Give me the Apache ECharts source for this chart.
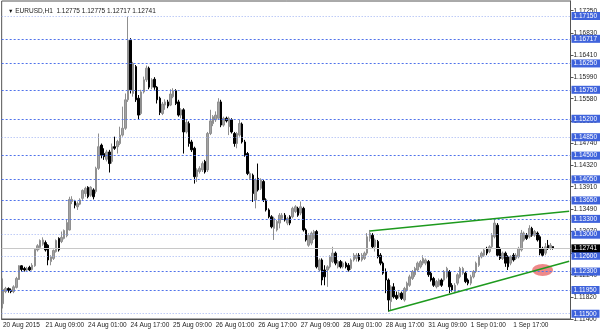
<!DOCTYPE html>
<html><head><meta charset="utf-8">
<script src="https://cdn.jsdelivr.net/npm/echarts@6/dist/echarts.min.js"></script>
<style>html,body{margin:0;padding:0;background:#fff}#c{width:600px;height:333px}</style>
</head><body><div id="c"></div>
<script>
// [open, close, low, high] per hourly bar, EURUSD H1
const candles = [
[1.1169,1.1196,1.1160,1.1217],[1.1192,1.1198,1.1189,1.1201],[1.1198,1.1194,1.1190,1.1200],[1.1195,1.1192,1.1189,1.1198],
[1.1192,1.1201,1.1189,1.1204],[1.1200,1.1217,1.1198,1.1220],[1.1215,1.1241,1.1214,1.1242],[1.1241,1.1234,1.1230,1.1242],
[1.1236,1.1233,1.1230,1.1239],[1.1233,1.1236,1.1230,1.1239],[1.1238,1.1233,1.1231,1.1241],[1.1234,1.1242,1.1232,1.1246],
[1.1241,1.1272,1.1239,1.1274],[1.1271,1.1279,1.1268,1.1282],[1.1276,1.1289,1.1272,1.1291],[1.1282,1.1290,1.1279,1.1295],
[1.1285,1.1271,1.1268,1.1289],[1.1280,1.1252,1.1242,1.1282],[1.1249,1.1258,1.1242,1.1261],[1.1255,1.1270,1.1252,1.1272],
[1.1268,1.1289,1.1266,1.1291],[1.1293,1.1271,1.1268,1.1295],[1.1287,1.1295,1.1284,1.1306],[1.1293,1.1308,1.1291,1.1310],
[1.1298,1.1323,1.1295,1.1328],[1.1309,1.1367,1.1308,1.1372],[1.1363,1.1367,1.1358,1.1373],[1.1363,1.1356,1.1350,1.1366],
[1.1353,1.1359,1.1347,1.1363],[1.1358,1.1366,1.1356,1.1369],[1.1369,1.1384,1.1366,1.1386],[1.1378,1.1388,1.1372,1.1391],
[1.1390,1.1372,1.1369,1.1392],[1.1375,1.1390,1.1372,1.1392],[1.1385,1.1372,1.1367,1.1388],[1.1382,1.1426,1.1378,1.1429],
[1.1426,1.1467,1.1423,1.1492],[1.1470,1.1451,1.1445,1.1473],[1.1454,1.1448,1.1442,1.1464],[1.1443,1.1457,1.1439,1.1461],
[1.1457,1.1435,1.1418,1.1461],[1.1439,1.1467,1.1435,1.1473],[1.1467,1.1464,1.1461,1.1486],[1.1467,1.1477,1.1454,1.1480],
[1.1473,1.1489,1.1470,1.1505],[1.1489,1.1502,1.1486,1.1543],[1.1502,1.1556,1.1499,1.1568],[1.1556,1.1669,1.1552,1.1714],
[1.1669,1.1575,1.1568,1.1673],[1.1568,1.1625,1.1562,1.1628],[1.1619,1.1556,1.1552,1.1622],[1.1559,1.1527,1.1518,1.1565],
[1.1530,1.1571,1.1527,1.1575],[1.1571,1.1594,1.1568,1.1600],[1.1594,1.1616,1.1590,1.1621],[1.1616,1.1580,1.1576,1.1619],
[1.1580,1.1594,1.1576,1.1597],[1.1595,1.1580,1.1575,1.1599],[1.1580,1.1556,1.1549,1.1582],[1.1559,1.1532,1.1527,1.1562],
[1.1530,1.1548,1.1527,1.1552],[1.1546,1.1552,1.1537,1.1557],[1.1552,1.1544,1.1540,1.1556],[1.1546,1.1567,1.1544,1.1576],
[1.1562,1.1573,1.1559,1.1578],[1.1573,1.1549,1.1546,1.1576],[1.1552,1.1527,1.1524,1.1556],[1.1527,1.1537,1.1521,1.1540],
[1.1537,1.1495,1.1454,1.1540],[1.1495,1.1513,1.1492,1.1518],[1.1511,1.1473,1.1467,1.1515],[1.1476,1.1461,1.1457,1.1480],
[1.1464,1.1410,1.1397,1.1467],[1.1410,1.1423,1.1400,1.1426],[1.1420,1.1426,1.1416,1.1430],[1.1423,1.1435,1.1419,1.1439],
[1.1439,1.1419,1.1416,1.1442],[1.1423,1.1492,1.1419,1.1495],[1.1492,1.1516,1.1489,1.1537],[1.1511,1.1524,1.1506,1.1527],
[1.1518,1.1527,1.1514,1.1534],[1.1521,1.1552,1.1518,1.1559],[1.1552,1.1508,1.1504,1.1556],[1.1508,1.1521,1.1505,1.1524],
[1.1521,1.1516,1.1513,1.1524],[1.1505,1.1521,1.1489,1.1524],[1.1518,1.1495,1.1492,1.1521],[1.1492,1.1473,1.1467,1.1495],
[1.1473,1.1492,1.1464,1.1495],[1.1489,1.1511,1.1486,1.1518],[1.1510,1.1476,1.1473,1.1513],[1.1476,1.1451,1.1448,1.1480],
[1.1454,1.1416,1.1413,1.1457],[1.1407,1.1416,1.1404,1.1420],[1.1413,1.1378,1.1362,1.1416],[1.1366,1.1404,1.1350,1.1407],
[1.1407,1.1385,1.1382,1.1435],[1.1388,1.1404,1.1385,1.1407],[1.1401,1.1366,1.1362,1.1404],[1.1366,1.1347,1.1344,1.1369],
[1.1347,1.1334,1.1331,1.1350],[1.1334,1.1315,1.1312,1.1337],[1.1312,1.1331,1.1290,1.1334],[1.1309,1.1325,1.1306,1.1328],
[1.1322,1.1337,1.1312,1.1341],[1.1331,1.1337,1.1328,1.1341],[1.1337,1.1328,1.1325,1.1341],[1.1322,1.1331,1.1318,1.1334],
[1.1334,1.1322,1.1318,1.1337],[1.1334,1.1350,1.1331,1.1353],[1.1344,1.1353,1.1341,1.1356],[1.1350,1.1337,1.1334,1.1353],
[1.1341,1.1353,1.1337,1.1363],[1.1350,1.1309,1.1306,1.1353],[1.1309,1.1290,1.1287,1.1312],[1.1280,1.1299,1.1277,1.1303],
[1.1284,1.1303,1.1280,1.1306],[1.1293,1.1306,1.1290,1.1309],[1.1306,1.1239,1.1236,1.1309],[1.1233,1.1252,1.1230,1.1255],
[1.1252,1.1214,1.1204,1.1255],[1.1233,1.1220,1.1204,1.1242],[1.1233,1.1239,1.1201,1.1242],[1.1239,1.1258,1.1236,1.1261],
[1.1249,1.1265,1.1246,1.1277],[1.1265,1.1246,1.1242,1.1268],[1.1239,1.1249,1.1236,1.1252],[1.1249,1.1239,1.1236,1.1252],
[1.1239,1.1246,1.1236,1.1249],[1.1246,1.1239,1.1236,1.1249],[1.1242,1.1233,1.1230,1.1246],[1.1236,1.1252,1.1233,1.1255],
[1.1252,1.1261,1.1249,1.1265],[1.1255,1.1261,1.1249,1.1265],[1.1261,1.1252,1.1249,1.1265],[1.1252,1.1261,1.1249,1.1265],
[1.1255,1.1265,1.1252,1.1268],[1.1265,1.1296,1.1261,1.1303],[1.1293,1.1303,1.1287,1.1309],[1.1299,1.1277,1.1274,1.1303],
[1.1277,1.1290,1.1268,1.1293],[1.1287,1.1258,1.1255,1.1290],[1.1261,1.1246,1.1242,1.1265],[1.1246,1.1227,1.1224,1.1249],
[1.1230,1.1214,1.1189,1.1236],[1.1214,1.1176,1.1154,1.1217],[1.1173,1.1201,1.1157,1.1204],[1.1201,1.1182,1.1179,1.1208],
[1.1185,1.1179,1.1176,1.1192],[1.1182,1.1189,1.1179,1.1192],[1.1189,1.1179,1.1176,1.1192],[1.1176,1.1198,1.1173,1.1201],
[1.1195,1.1208,1.1192,1.1211],[1.1204,1.1220,1.1201,1.1224],[1.1217,1.1230,1.1214,1.1233],[1.1224,1.1236,1.1220,1.1239],
[1.1233,1.1246,1.1230,1.1249],[1.1239,1.1249,1.1236,1.1252],[1.1246,1.1255,1.1242,1.1261],[1.1246,1.1252,1.1242,1.1255],
[1.1249,1.1224,1.1220,1.1252],[1.1227,1.1214,1.1211,1.1230],[1.1217,1.1204,1.1201,1.1220],[1.1201,1.1211,1.1198,1.1214],
[1.1204,1.1214,1.1201,1.1217],[1.1214,1.1204,1.1201,1.1217],[1.1214,1.1230,1.1211,1.1233],[1.1220,1.1236,1.1217,1.1239],
[1.1230,1.1201,1.1189,1.1233],[1.1204,1.1195,1.1192,1.1208],[1.1192,1.1204,1.1189,1.1208],[1.1208,1.1224,1.1204,1.1227],
[1.1220,1.1236,1.1217,1.1239],[1.1227,1.1236,1.1224,1.1239],[1.1227,1.1211,1.1208,1.1230],[1.1214,1.1208,1.1204,1.1217],
[1.1208,1.1220,1.1204,1.1224],[1.1220,1.1230,1.1217,1.1233],[1.1230,1.1246,1.1227,1.1249],[1.1242,1.1258,1.1239,1.1261],
[1.1258,1.1265,1.1255,1.1268],[1.1261,1.1271,1.1258,1.1274],[1.1274,1.1265,1.1261,1.1277],[1.1268,1.1277,1.1265,1.1280],
[1.1277,1.1299,1.1274,1.1303],[1.1296,1.1322,1.1293,1.1328],[1.1318,1.1261,1.1258,1.1322],[1.1274,1.1255,1.1252,1.1277],
[1.1255,1.1265,1.1252,1.1268],[1.1265,1.1246,1.1239,1.1268],[1.1258,1.1239,1.1233,1.1261],[1.1246,1.1258,1.1242,1.1261],
[1.1261,1.1252,1.1249,1.1265],[1.1255,1.1261,1.1252,1.1265],[1.1258,1.1274,1.1255,1.1277],[1.1271,1.1303,1.1268,1.1309],
[1.1290,1.1303,1.1287,1.1306],[1.1299,1.1293,1.1290,1.1303],[1.1296,1.1312,1.1293,1.1318],[1.1312,1.1299,1.1296,1.1315],
[1.1299,1.1306,1.1296,1.1309],[1.1303,1.1290,1.1287,1.1306],[1.1296,1.1265,1.1261,1.1299],[1.1274,1.1261,1.1258,1.1277],
[1.1265,1.1277,1.1261,1.1284],[1.1280,1.1274,1.1271,1.1290],[1.1274,1.1280,1.1271,1.1284],[1.12775,1.12741,1.12717,1.12775]
];
const emptySlots = 6; // right-hand chart shift
const dateLabels = ["20 Aug 2015","21 Aug 09:00","24 Aug 01:00","24 Aug 17:00","25 Aug 09:00","26 Aug 01:00",
  "26 Aug 17:00","27 Aug 09:00","28 Aug 01:00","28 Aug 17:00","31 Aug 09:00","1 Sep 01:00","1 Sep 17:00"];
const labelEvery = 16;
const priceTicks = [1.11400,1.11820,1.12240,1.12650,1.13070,1.13490,1.13910,1.14320,1.14740,1.15160,1.15580,1.15990,1.16410,1.16830,1.17250];
const levels = [1.17150,1.16717,1.16250,1.15750,1.15200,1.14850,1.14500,1.14050,1.13650,1.13300,1.13000,1.12600,1.12300,1.11950,1.11500];
const lightLevels = [1.17150,1.14850,1.13000,1.12600,1.11500];
const currentPrice = 1.12741;
const titleText = "EURUSD,H1  1.12775 1.12775 1.12717 1.12741";
const upperTrend = [[138, 1.1307], [213, 1.13443]];
const lowerTrend = [[145, 1.1155], [213, 1.12497]];
const marker = [[203, 1.1233]];

const cats = [];
for (let i = 0; i < candles.length + emptySlots; i++) cats.push(String(i));
const showIdx = (i) => i % labelEvery === 0 && i / labelEvery < dateLabels.length;
const FONT = 'Liberation Sans';

const chart = echarts.init(document.getElementById('c'), null, {renderer: 'canvas'});
chart.setOption({
  animation: false,
  backgroundColor: '#fff',
  title: {
    text: '{t|▼} ' + titleText, left: 3, top: 3,
    textStyle: {fontSize: 6.5, fontFamily: FONT, color: '#222', fontWeight: 'normal',
      rich: {t: {fontSize: 5.5, color: '#111', fontFamily: FONT}}}
  },
  grid: {left: 1, right: 29, top: 1, bottom: 14, show: true, borderColor: '#555', borderWidth: 1, backgroundColor: '#fff'},
  xAxis: {
    type: 'category', data: cats, boundaryGap: true,
    axisLine: {lineStyle: {color: '#555', width: 1}},
    axisTick: {interval: (i) => showIdx(i), alignWithLabel: true, length: 3, lineStyle: {color: '#555'}},
    axisLabel: {interval: (i) => showIdx(i), formatter: (v, i) => dateLabels[i / labelEvery] || '',
      align: 'left', fontSize: 6.5, fontFamily: FONT, color: '#222', margin: 3},
    splitLine: {show: false}
  },
  yAxis: {
    type: 'value', position: 'right', min: 1.1140, max: 1.17435, scale: true,
    axisLine: {show: true, lineStyle: {color: '#555', width: 1}},
    axisTick: {show: true, customValues: priceTicks, length: 3, lineStyle: {color: '#555'}},
    axisLabel: {customValues: priceTicks, formatter: (v) => v.toFixed(5), fontSize: 6.5, fontFamily: FONT, color: '#222', margin: 3},
    splitLine: {show: false}
  },
  series: [
    {
      type: 'line', data: [], z: 1, silent: true,
      markLine: {
        symbol: 'none', silent: true, animation: false, precision: 5,
        data: levels.map(v => {
          const light = lightLevels.indexOf(v) >= 0;
          return {
            yAxis: v,
            lineStyle: {color: light ? '#9fb2f2' : '#4f72ea', type: light ? [1, 2] : [2, 2], width: 1},
            label: {show: true, position: 'end', distance: 1, formatter: v.toFixed(5),
              backgroundColor: '#3f63dc', color: '#fff', fontSize: 6.5, fontFamily: FONT, padding: [1, 3, 0, 2], lineHeight: 7}
          };
        }).concat([{
          yAxis: currentPrice,
          lineStyle: {color: '#c8c8c8', type: 'solid', width: 1},
          label: {show: true, position: 'end', distance: 1, formatter: currentPrice.toFixed(5),
            backgroundColor: '#000', color: '#fff', fontSize: 6.5, fontFamily: FONT, padding: [1, 3, 0, 2], lineHeight: 7}
        }])
      }
    },
    {
      type: 'candlestick', data: candles, z: 3, barWidth: 2,
      itemStyle: {color: '#a3a3a3', color0: '#000', borderColor: '#8f8f8f', borderColor0: '#000', borderWidth: 1}
    },
    {
      type: 'scatter', data: marker, z: 4, symbol: 'circle', symbolSize: [21, 12], silent: true,
      itemStyle: {color: '#ec7c7c', opacity: 0.9}
    },
    {
      type: 'line', data: [], z: 5, silent: true,
      markLine: {
        symbol: 'none', silent: true, animation: false, precision: 5,
        lineStyle: {color: '#1e9a1e', width: 1.5, type: 'solid'},
        label: {show: false},
        data: [
          [{coord: upperTrend[0]}, {coord: upperTrend[1]}],
          [{coord: lowerTrend[0]}, {coord: lowerTrend[1]}]
        ]
      }
    }
  ]
});
</script></body></html>
